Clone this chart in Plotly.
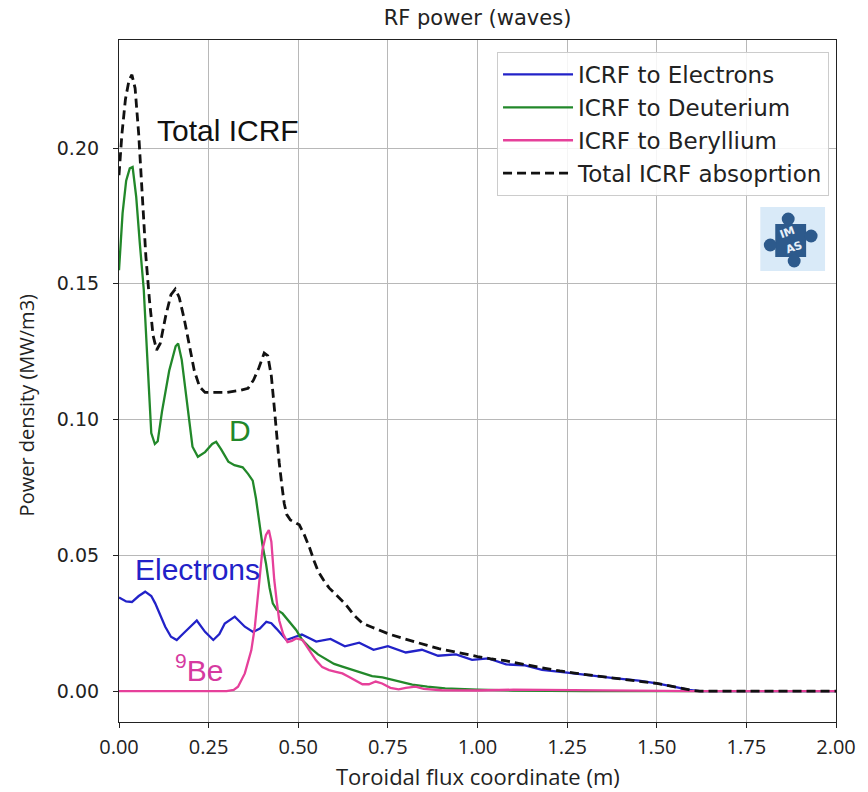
import plotly.graph_objects as go

# ---------------- data ----------------
x_e = [0.0, 0.02, 0.036, 0.055, 0.073, 0.09, 0.101, 0.115, 0.129, 0.145, 0.161, 0.178,
       0.194, 0.217, 0.24, 0.263, 0.28, 0.295, 0.323, 0.351, 0.374, 0.393, 0.411, 0.425,
       0.439, 0.467, 0.51, 0.55, 0.59, 0.63, 0.67, 0.71, 0.75, 0.80, 0.845, 0.89, 0.94,
       0.985, 1.03, 1.08, 1.13, 1.18, 1.25, 1.32, 1.38, 1.45, 1.50, 1.55, 1.59, 1.62, 2.0]
y_e = [0.0345, 0.033, 0.0328, 0.035, 0.0366, 0.035, 0.0323, 0.028, 0.0237, 0.020, 0.0188, 0.021,
       0.023, 0.026, 0.0218, 0.0188, 0.021, 0.0249, 0.0274, 0.0237, 0.0218, 0.023, 0.0255, 0.025,
       0.023, 0.0188, 0.0208, 0.0182, 0.0192, 0.0165, 0.0178, 0.0152, 0.0165, 0.0142, 0.0152, 0.013, 0.0135,
       0.0115, 0.012, 0.0098, 0.0095, 0.0078, 0.0068, 0.0056, 0.0048, 0.0038, 0.0028, 0.0015, 0.0004, 0.0, 0.0]

x_d = [0.0, 0.01, 0.02, 0.03, 0.038, 0.048, 0.058, 0.069, 0.08, 0.09, 0.1, 0.108, 0.12, 0.14,
       0.158, 0.165, 0.175, 0.19, 0.205, 0.22, 0.24, 0.26, 0.271, 0.285, 0.305, 0.322, 0.345,
       0.36, 0.373, 0.382, 0.392, 0.40, 0.41, 0.42, 0.429, 0.44, 0.456, 0.475, 0.494, 0.51,
       0.53, 0.555, 0.577, 0.6, 0.623, 0.65, 0.679, 0.706, 0.735, 0.762, 0.79, 0.818, 0.86,
       0.91, 1.0, 1.1, 1.3, 2.0]
y_d = [0.155, 0.176, 0.188, 0.1925, 0.193, 0.182, 0.165, 0.148, 0.12, 0.095, 0.091, 0.092, 0.103, 0.118,
       0.127, 0.128, 0.122, 0.105, 0.090, 0.0863, 0.088, 0.091, 0.0918, 0.089, 0.0845, 0.0832, 0.0824,
       0.080, 0.0775, 0.071, 0.062, 0.054, 0.047, 0.038, 0.0323, 0.030, 0.0286, 0.0255, 0.0225, 0.019,
       0.0163, 0.0135, 0.0117, 0.010, 0.009, 0.0078, 0.0065, 0.0055, 0.005, 0.0042, 0.0032, 0.0024, 0.0016,
       0.001, 0.0005, 0.0002, 0.0, 0.0]

x_b = [0.0, 0.3, 0.32, 0.332, 0.351, 0.369, 0.379, 0.388, 0.40, 0.41, 0.418, 0.425, 0.433, 0.44,
       0.447, 0.458, 0.47, 0.482, 0.494, 0.512, 0.53, 0.549, 0.567, 0.586, 0.605, 0.623, 0.642,
       0.66, 0.679, 0.697, 0.716, 0.734, 0.757, 0.78, 0.80, 0.827, 0.85, 0.9, 1.0, 1.1, 1.3, 1.5,
       1.6, 2.0]
y_b = [0.0, 0.0, 0.0004, 0.0016, 0.0065, 0.015, 0.0237, 0.036, 0.052, 0.0575, 0.0593, 0.055, 0.041, 0.033,
       0.026, 0.021, 0.018, 0.0185, 0.0194, 0.0188, 0.015, 0.0114, 0.0088, 0.0077, 0.0071, 0.0065, 0.0052,
       0.004, 0.0025, 0.0025, 0.0035, 0.0028, 0.0012, 0.0006, 0.0012, 0.0016, 0.0008, 0.0003, 0.0002, 0.0005, 0.0003, 0.0002,
       0.0, 0.0]

x_t = [0.0, 0.008, 0.018, 0.028, 0.036, 0.045, 0.055, 0.065, 0.075, 0.085, 0.095, 0.105, 0.115,
       0.13, 0.145, 0.157, 0.168, 0.182, 0.197, 0.21, 0.225, 0.24, 0.3, 0.34, 0.36, 0.375, 0.39,
       0.405, 0.415, 0.425, 0.433, 0.44, 0.447, 0.455, 0.461, 0.468, 0.478, 0.492, 0.503, 0.517,
       0.531, 0.544, 0.556, 0.57, 0.586, 0.605, 0.632, 0.655, 0.679, 0.706, 0.753, 0.79, 0.827,
       0.86, 0.892, 0.925, 0.956, 1.0, 1.04, 1.077, 1.13, 1.179, 1.23, 1.271, 1.32, 1.355, 1.4,
       1.45, 1.5, 1.54, 1.57, 1.6, 1.62, 2.0]
y_t = [0.19, 0.205, 0.218, 0.225, 0.227, 0.222, 0.205, 0.18, 0.16, 0.144, 0.131, 0.1256, 0.128,
       0.138, 0.146, 0.148, 0.145, 0.137, 0.127, 0.118, 0.112, 0.110, 0.110, 0.1108, 0.1115, 0.1145, 0.119,
       0.1245, 0.1235, 0.116, 0.1047, 0.094, 0.084, 0.075, 0.069, 0.065, 0.063, 0.062, 0.0612, 0.0575,
       0.053, 0.048, 0.044, 0.041, 0.038, 0.0355, 0.032, 0.028, 0.025, 0.0235, 0.021, 0.0195, 0.0182,
       0.0168, 0.0156, 0.0147, 0.0138, 0.0127, 0.0118, 0.0112, 0.0098, 0.0085, 0.0074, 0.0066, 0.0058, 0.0052, 0.0045,
       0.0037, 0.0028, 0.0018, 0.001, 0.0002, 0.0, 0.0]

series_names = ["ICRF to Electrons", "ICRF to Deuterium", "ICRF to Beryllium", "Total ICRF absoprtion"]
x_ticks = [0.0, 0.25, 0.5, 0.75, 1.0, 1.25, 1.5, 1.75, 2.0]
y_ticks = [0.0, 0.05, 0.10, 0.15, 0.20]

# ---------------- layout geometry ----------------
W, H = 868, 792
L, R, T, B = 119, 839, 40, 722


def px(x, y):
    return (x - L) / (R - L), (B - y) / (B - T)


BLUE = "#2222c8"
GREEN = "#22882a"
PINK = "#e6409a"

fig = go.Figure()
fig.add_trace(go.Scatter(x=x_e, y=y_e, mode="lines", name=series_names[0], legendgroup="a",
                         line=dict(color=BLUE, width=2.3)))
fig.add_trace(go.Scatter(x=x_d, y=y_d, mode="lines", name=series_names[1], legendgroup="b",
                         line=dict(color=GREEN, width=2.3)))
fig.add_trace(go.Scatter(x=x_b, y=y_b, mode="lines", name=series_names[2], legendgroup="c",
                         line=dict(color=PINK, width=2.3)))
fig.add_trace(go.Scatter(x=x_t, y=y_t, mode="lines", name=series_names[3], legendgroup="d",
                         line=dict(color="#111111", width=2.8, dash="9px,5px")))

ann_font = "Liberation Sans, Arial, sans-serif"
annotations = [
    dict(x=0.1, y=0.2063, text="Total ICRF", font=dict(color="#111111")),
    dict(x=0.3, y=0.0961, text="D", font=dict(color=GREEN)),
    dict(x=0.039, y=0.0449, text="Electrons", font=dict(color=BLUE)),
    dict(x=0.15, y=0.0085, text="<sup>9</sup>Be", font=dict(color="#d63aa0")),
]
for a in annotations:
    a["font"].update(family=ann_font, size=30)
    fig.add_annotation(xref="x", yref="y", xanchor="left", yanchor="middle",
                       showarrow=False, **a)

# axis titles
fig.add_annotation(xref="paper", yref="paper", x=0.5, y=px(0, 776)[1], xanchor="center", yanchor="middle",
                   text="Toroidal flux coordinate (m)", showarrow=False,
                   font=dict(family="Open Sans, sans-serif", size=22, color="#222"))
fig.add_annotation(xref="paper", yref="paper", x=px(26, 0)[0], y=px(0, 405)[1], xanchor="center",
                   yanchor="middle", textangle=-90, text="Power density (MW/m3)", showarrow=False,
                   font=dict(family="Open Sans, sans-serif", size=20, color="#222"))

# IMAS logo (decoration)
shapes = []
x0, y1 = px(763, 207)
x1, y0 = px(828, 271)
shapes.append(dict(type="rect", xref="paper", yref="paper", x0=x0, x1=x1, y0=y0, y1=y1,
                   fillcolor="#d9eaf8", line=dict(width=0), layer="above"))
LOGO = "#2d5a8c"
bx0, by1 = px(778, 224)
bx1, by0 = px(809, 257)
shapes.append(dict(type="rect", xref="paper", yref="paper", x0=bx0, x1=bx1, y0=by0, y1=by1,
                   fillcolor=LOGO, line=dict(width=0), layer="above"))
for cx, cy, r in [(791, 219, 6.5), (814, 236, 6.5), (773, 245, 6.5), (797, 261, 6.5)]:
    ax0, ay1 = px(cx - r, cy - r)
    ax1, ay0 = px(cx + r, cy + r)
    shapes.append(dict(type="circle", xref="paper", yref="paper", x0=ax0, x1=ax1, y0=ay0, y1=ay1,
                       fillcolor=LOGO, line=dict(width=0), layer="above"))
fig.update_layout(shapes=shapes)
for t, (tx, ty) in [("IM", (790, 233)), ("AS", (797, 248))]:
    ptx, pty = px(tx, ty)
    fig.add_annotation(xref="paper", yref="paper", x=ptx, y=pty, text="<b>%s</b>" % t, showarrow=False,
                       textangle=-20, font=dict(family="DejaVu Sans", size=11, color="#e8f1fa"),
                       xanchor="center", yanchor="middle")

axis_common = dict(showgrid=True, gridcolor="#b8b8b8", gridwidth=1, zeroline=False,
                   showline=True, linecolor="#222", linewidth=1.2, mirror=True,
                   ticks="outside", ticklen=5, tickcolor="#222", tickwidth=1.2)

fig.update_layout(
    width=W, height=H,
    margin=dict(l=L, r=W - R, t=T, b=H - B),
    paper_bgcolor="white", plot_bgcolor="white",
    title=dict(text="RF power (waves)", x=0.5, xref="paper", y=1 - 18 / H, yref="container",
               xanchor="center", yanchor="middle",
               font=dict(family="DejaVu Sans", size=21, color="#222")),
    xaxis=dict(range=[0, 2], tickvals=x_ticks, ticktext=["%.2f" % v for v in x_ticks],
               tickfont=dict(family="Open Sans, sans-serif", size=20, color="#222"),
               ticklabelstandoff=2, **axis_common),
    yaxis=dict(range=[-0.0114, 0.2398], tickvals=y_ticks, ticktext=["%.2f" % v for v in y_ticks],
               tickfont=dict(family="DejaVu Sans", size=19, color="#222"),
               ticklabelstandoff=10, **axis_common),
    legend=dict(x=px(832, 0)[0], y=px(0, 52)[1], xanchor="right", yanchor="top",
                bgcolor="rgba(255,255,255,0.85)", bordercolor="#cccccc", borderwidth=1,
                font=dict(family="DejaVu Sans", size=23, color="#222"),
                tracegroupgap=0, itemwidth=70),
    showlegend=True,
)

fig.write_html("out.html")
